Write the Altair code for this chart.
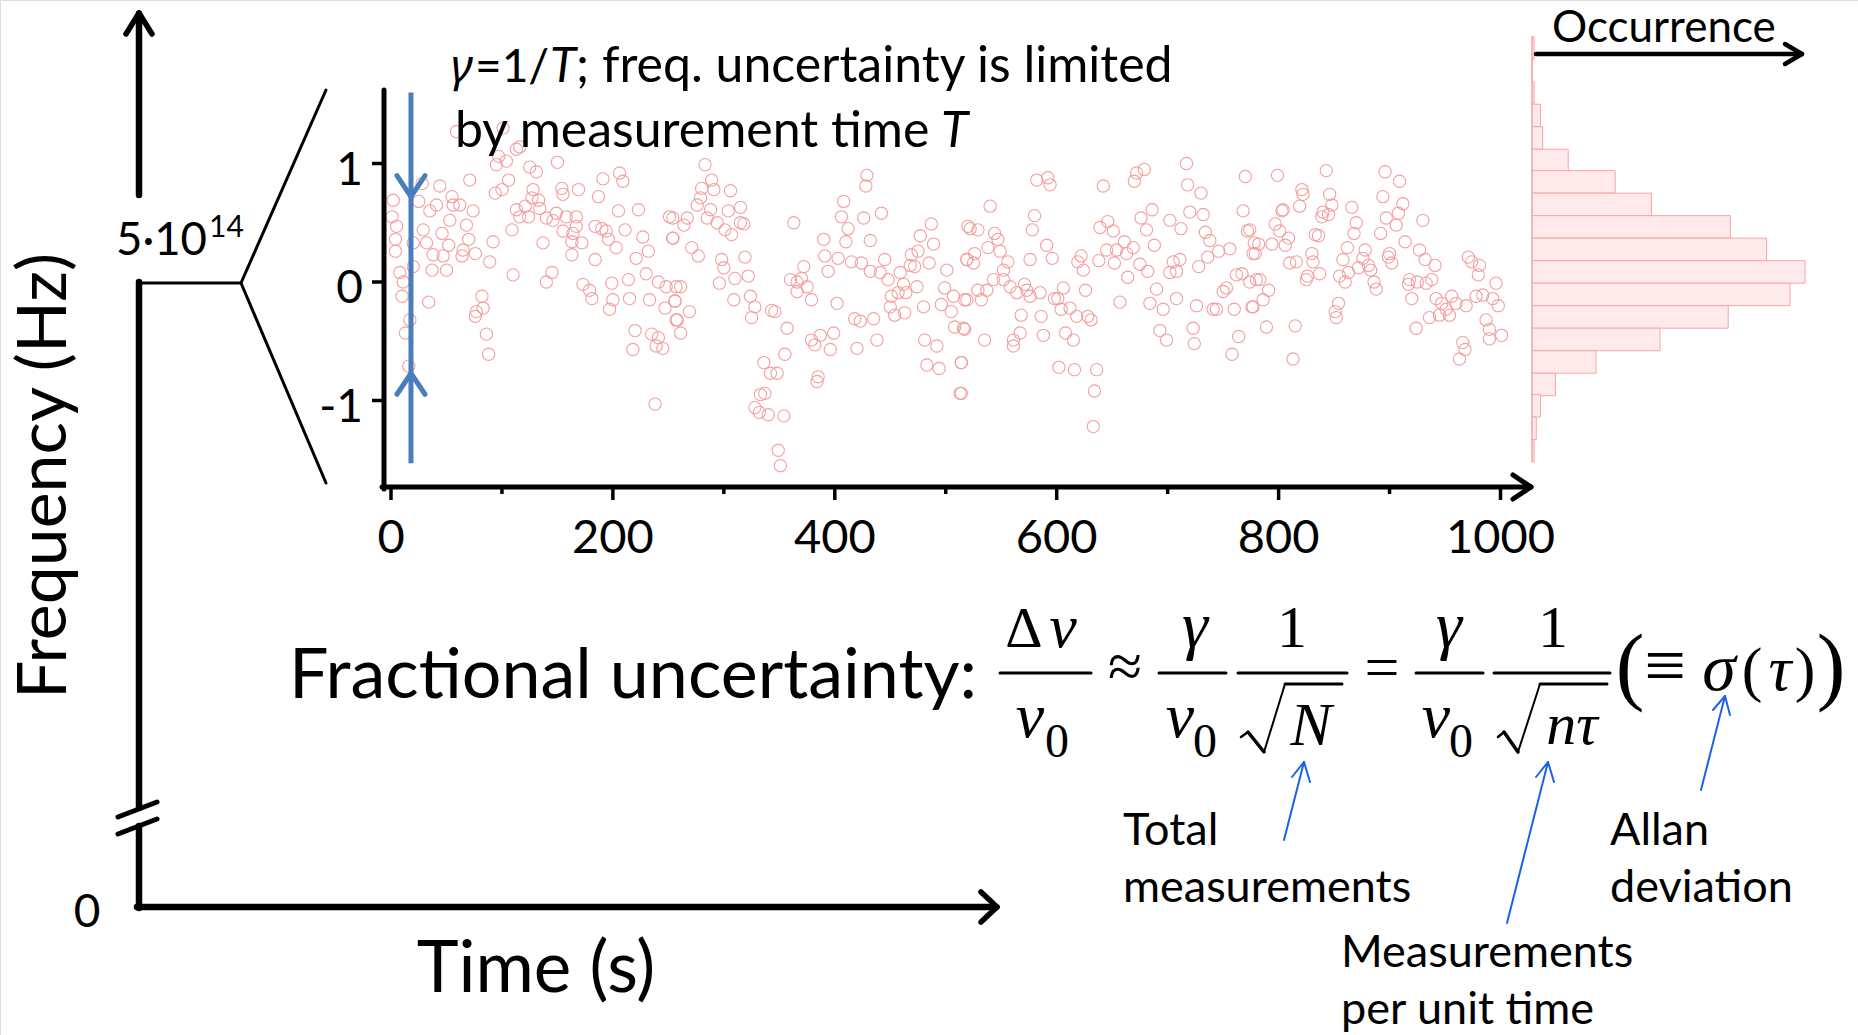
import altair as alt
import pandas as pd

# ---------------- data ----------------
# (time in s, frequency offset) pairs, grouped by time segment
seg_a = [(59,1.27),(101,1.30),(113,1.12),(116,1.14),(97,1.06),(104,1.02),(95,0.99),(125,0.97),(131,0.93),(150,1.01),
         (28,0.83),(44,0.81),(71,0.86),(94,0.75),(100,0.78),(106,0.86),(128,0.78),(127,0.71),(133,0.69),(134,0.62),
         (154,0.79),(155,0.74),(169,0.78),(191,0.87),(187,0.72),(206,0.92),(209,0.85),(2,0.69),(25,0.68),(35,0.60),
         (41,0.65),(55,0.72),(56,0.65),(62,0.65),(74,0.60),(113,0.61),(121,0.64),(124,0.55),(116,0.55),(140,0.54),
         (146,0.52),(149,0.58),(158,0.55),(167,0.55),(167,0.47),(1,0.55),(5,0.47),(29,0.44),(46,0.41),(53,0.52),
         (68,0.48),(109,0.44),(155,0.43),(164,0.41),(184,0.47),(190,0.45),(194,0.43),(205,0.60),(211,0.44),(223,0.61),
         (251,0.55),(254,0.37),(4,0.36),(20,0.33),(32,0.33),(52,0.31),(70,0.36),(65,0.27),(64,0.22),(76,0.24),
         (92,0.34),(137,0.33),(163,0.34),(172,0.33),(196,0.36),(203,0.29),(4,0.26),(38,0.23),(47,0.22),(89,0.17),
         (184,0.19),(163,0.23),(221,0.20),(232,0.26),(227,0.38),(20,0.13),(37,0.10),(50,0.10),(8,0.08),(110,0.06),
         (145,0.08),(140,0.00),(173,-0.02),(179,-0.07),(199,-0.01),(214,0.02),(230,0.07),(241,0.00),(248,-0.04),(257,-0.04),
         (11,0.00),(10,-0.12),(34,-0.17),(82,-0.12),(83,-0.22),(77,-0.25),(76,-0.29),(181,-0.14),(200,-0.15),(197,-0.23),
         (215,-0.14),(233,-0.15),(247,-0.22),(256,-0.16),(257,-0.32),(17,-0.32),(13,-0.43),(86,-0.44),(88,-0.61),(220,-0.41),
         (218,-0.57),(235,-0.44),(241,-0.47),(239,-0.54),(245,-0.56),(16,-0.71),(238,-1.03)]
seg_b = [(283,0.99),(289,0.86),(280,0.79),(291,0.78),(306,0.77),(279,0.71),(276,0.65),(288,0.61),(304,0.60),(315,0.63),
         (254,0.54),(267,0.54),(264,0.48),(285,0.54),(294,0.50),(301,0.44),(307,0.40),(315,0.50),(318,0.49),(254,0.37),
         (271,0.29),(277,0.22),(298,0.19),(300,0.12),(319,0.21),(310,0.03),(322,0.05),(296,-0.01),(261,-0.04),(256,-0.16),
         (258,-0.32),(261,-0.43),(269,-0.25),(309,-0.15),(324,-0.12),(328,-0.21),(325,-0.30),(343,-0.24),(346,-0.25),(357,-0.39),
         (363,0.50),(355,-0.61),(336,-0.68),(342,-0.77),(348,-0.77),(333,-0.95),(337,-0.94),(328,-1.06),(332,-1.10),(340,-1.12),
         (354,-1.13),(349,-1.42),(351,-1.55),(360,0.02),(366,0.00),(370,0.03),(372,0.13),(375,-0.04),(366,-0.08),(379,-0.15),
         (390,0.36),(391,0.22),(394,0.09),(402,-0.18),(406,0.55),(408,0.68),(412,0.45),(410,0.34),(403,0.20),(415,0.17),
         (424,0.16),(426,0.54),(429,0.90),(428,0.81),(432,0.35),(432,0.09),(441,0.08),(442,0.58),(445,0.19),(448,0.02),
         (451,-0.12),(459,0.08),(462,-0.02),(464,-0.09),(457,-0.09),(450,-0.21),(454,-0.28),(463,-0.26),(468,0.14),(469,0.23),
         (475,0.26),(472,0.13),(474,-0.04),(477,0.39),(487,0.49),(489,0.32),(485,0.16),(480,-0.21),(501,0.10),(499,-0.05),
         (507,-0.12),(496,-0.19),(505,-0.25),(508,-0.38),(517,-0.15),(516,-0.39),(520,0.47),(519,0.19),(418,-0.31),(423,-0.33),
         (435,-0.31),(438,-0.49),(420,-0.56),(379,-0.49),(387,-0.45),(382,-0.53),(399,-0.43),(396,-0.57),(385,-0.80),(384,-0.84),
         (481,-0.49),(492,-0.54),(483,-0.70),(494,-0.73),(514,-0.68),(513,-0.94)]
seg_c = [(582,0.86),(592,0.88),(594,0.82),(642,0.81),(672,0.92),(670,0.85),(679,0.95),(717,1.00),(718,0.82),(730,0.75),
         (770,0.89),(540,0.64),(580,0.56),(578,0.44),(522,0.45),(529,0.44),(544,0.41),(547,0.36),(538,0.29),(549,0.26),
         (556,0.17),(552,0.10),(526,0.24),(519,0.19),(525,0.16),(543,0.02),(552,0.02),(558,-0.04),(564,-0.09),(571,-0.02),
         (573,-0.07),(576,-0.12),(585,-0.09),(529,-0.07),(537,-0.07),(532,-0.15),(519,-0.15),(517,-0.40),(535,-0.49),(568,-0.28),
         (567,-0.43),(561,-0.49),(561,-0.54),(586,-0.29),(588,-0.45),(591,0.31),(596,0.20),(576,0.19),(598,-0.14),(601,-0.14),
         (606,-0.05),(604,-0.23),(612,-0.22),(618,-0.29),(608,-0.43),(615,-0.49),(628,-0.29),(631,-0.32),(626,-0.07),(622,0.22),
         (619,0.17),(624,0.10),(602,-0.72),(616,-0.74),(636,-0.74),(634,-0.92),(633,-1.22),(639,0.46),(646,0.51),(651,0.43),
         (638,0.18),(645,0.27),(652,0.16),(654,0.27),(661,0.34),(663,0.24),(669,0.29),(657,-0.17),(664,0.04),(675,0.15),
         (682,0.09),(676,0.54),(686,0.61),(681,0.44),(688,0.31),(690,-0.06),(684,-0.18),(696,-0.23),(693,-0.41),(699,-0.49),
         (702,0.52),(712,0.45),(702,0.08),(705,0.17),(711,0.19),(708,0.09),(708,-0.14),(720,0.59),(732,0.57),(734,0.42),
         (738,0.35),(736,0.21),(728,0.13),(746,0.26),(756,0.28),(726,-0.20),(723,-0.39),(724,-0.52),(753,-0.05),(750,-0.08),
         (741,-0.23),(744,-0.23),(760,-0.23),(764,-0.46),(758,-0.61),(762,0.06),(767,0.07),(774,0.00),(768,0.60),(772,0.43),
         (778,0.33),(777,0.24),(780,0.02),(776,-0.21),(514,-0.68),(514,-0.94)]
seg_d = [(799,0.90),(843,0.94),(896,0.93),(909,0.85),(821,0.78),(822,0.74),(819,0.64),(846,0.74),(848,0.65),(840,0.59),
         (839,0.55),(845,0.57),(804,0.61),(803,0.60),(797,0.49),(801,0.43),(809,0.37),(806,0.31),(794,0.32),(782,0.32),
         (779,0.24),(774,0.44),(833,0.40),(836,0.39),(866,0.63),(870,0.50),(868,0.41),(894,0.72),(897,0.54),(906,0.48),
         (908,0.58),(912,0.66),(892,0.41),(930,0.52),(914,0.34),(927,0.27),(932,0.19),(941,0.14),(862,0.29),(858,0.19),
         (878,0.27),(876,0.20),(881,0.14),(883,0.10),(872,0.12),(863,0.08),(855,0.05),(860,0.00),(886,0.00),(888,-0.06),
         (899,0.21),(902,0.16),(900,0.24),(816,0.17),(810,0.16),(830,0.24),(831,0.17),(826,0.05),(825,0.02),(837,0.07),
         (783,0.02),(791,-0.07),(786,-0.15),(777,-0.21),(854,-0.18),(851,-0.25),(852,-0.30),(918,0.02),(917,-0.02),(925,0.00),
         (938,0.02),(933,-0.01),(920,-0.14),(942,-0.14),(936,-0.30),(947,-0.18),(951,-0.23),(945,-0.28),(956,-0.12),(960,-0.18),
         (954,-0.28),(971,0.21),(974,0.17),(981,0.14),(980,0.06),(978,-0.12),(984,-0.11),(996,-0.01),(993,-0.14),(998,-0.20),
         (969,-0.20),(987,-0.32),(990,-0.40),(1001,-0.45),(990,-0.48),(966,-0.51),(968,-0.57),(963,-0.65),(924,-0.39),(789,-0.38),
         (815,-0.37),(813,-0.65)]

# histogram of occurrences (bin tops in frequency units, counts)
hist_top = [2.07, 1.88, 1.69, 1.50, 1.31, 1.12, 0.94, 0.75, 0.56, 0.37, 0.18, -0.01, -0.20, -0.39, -0.58, -0.77, -0.95, -1.14, -1.33]
hist_count = [1, 0, 1, 4, 5, 17, 39, 56, 93, 110, 128, 121, 92, 60, 30, 11, 4, 2, 1]
hist_bin = 0.19

x_major = [0, 200, 400, 600, 800, 1000]
x_minor = [100, 300, 500, 700, 900]
y_ticks = [-1, 0, 1]

gamma_t = 18          # time of the linewidth marker
gamma_span = (-1.53, 1.60)
gamma_down_tip = 0.72
gamma_up_tip = -0.77

# ---------------- scales ----------------
XS = alt.Scale(domain=[0, 1000], range=[391, 1500.5], nice=False, zero=False)
YS = alt.Scale(domain=[-1, 1], range=[400.5, 163.5], nice=False, zero=False)
HXS = alt.Scale(domain=[0, 128], range=[1532, 1805], nice=False, zero=False)

RED = '#f49b9b'
BLUE = '#4a7dbb'
ABLUE = '#1a63e8'

pts = pd.DataFrame(seg_a + seg_b + seg_c + seg_d, columns=['t', 'f'])

scatter = alt.Chart(pts).mark_point(shape='circle', filled=False, size=150, color=RED,
                                    strokeWidth=1.1, opacity=0.95).encode(
    x=alt.X('t:Q', scale=XS, axis=None), y=alt.Y('f:Q', scale=YS, axis=None))

hist_df = pd.DataFrame({'top': hist_top, 'count': hist_count})
hist_df['bottom'] = hist_df['top'] - hist_bin
hist_df['zero'] = 0
hist = alt.Chart(hist_df).mark_rect(fill='#feeaea', stroke='#f7a6a6', strokeWidth=1).encode(
    x=alt.X('zero:Q', scale=HXS, axis=None), x2='count:Q',
    y=alt.Y('top:Q', scale=YS, axis=None), y2='bottom:Q')
hist_base = alt.Chart(pd.DataFrame({'a': [hist_top[0]], 'b': [hist_top[-1] - hist_bin], 'z': [0]})).mark_rule(
    color='#f7a6a6', strokeWidth=1.2).encode(
    x=alt.X('z:Q', scale=HXS, axis=None), y=alt.Y('a:Q', scale=YS, axis=None), y2='b:Q')

xt_major = alt.Chart(pd.DataFrame({'t': x_major})).mark_rule(color='black', strokeWidth=3.5).encode(
    x=alt.X('t:Q', scale=XS, axis=None), y=alt.value(487), y2=alt.value(500))
xt_minor = alt.Chart(pd.DataFrame({'t': x_minor})).mark_rule(color='black', strokeWidth=3.5).encode(
    x=alt.X('t:Q', scale=XS, axis=None), y=alt.value(487), y2=alt.value(494))
xt_lab = alt.Chart(pd.DataFrame({'t': x_major, 'lab': [str(v) for v in x_major]})).mark_text(
    font='Lato', fontSize=47, align='center', baseline='alphabetic', color='black').encode(
    x=alt.X('t:Q', scale=XS, axis=None), y=alt.value(553), text='lab:N')
yt = alt.Chart(pd.DataFrame({'f': y_ticks})).mark_rule(color='black', strokeWidth=3.5).encode(
    y=alt.Y('f:Q', scale=YS, axis=None), x=alt.value(372), x2=alt.value(384))
yt_lab = alt.Chart(pd.DataFrame({'f': y_ticks, 'lab': [str(v) for v in y_ticks]})).mark_text(
    font='Lato', fontSize=46, align='right', baseline='middle', dy=7, color='black').encode(
    y=alt.Y('f:Q', scale=YS, axis=None), x=alt.value(363), text='lab:N')

gl = alt.Chart(pd.DataFrame({'t': [gamma_t], 'a': [gamma_span[0]], 'b': [gamma_span[1]]})).mark_rule(
    color=BLUE, strokeWidth=5).encode(
    x=alt.X('t:Q', scale=XS, axis=None), y=alt.Y('a:Q', scale=YS, axis=None), y2='b:Q')
g_down = alt.Chart(pd.DataFrame({'t': [gamma_t], 'f': [gamma_down_tip]})).mark_point(
    shape='M-0.667,-1L0,0L0.667,-1', size=1764, filled=False, color=BLUE, strokeWidth=5, opacity=1,
    strokeCap='round').encode(x=alt.X('t:Q', scale=XS, axis=None), y=alt.Y('f:Q', scale=YS, axis=None))
g_up = alt.Chart(pd.DataFrame({'t': [gamma_t], 'f': [gamma_up_tip]})).mark_point(
    shape='M-0.667,1L0,0L0.667,1', size=1764, filled=False, color=BLUE, strokeWidth=5, opacity=1,
    strokeCap='round').encode(x=alt.X('t:Q', scale=XS, axis=None), y=alt.Y('f:Q', scale=YS, axis=None))


# ---------------- decorations (pixel layout) ----------------
def px_lines(rows, color):
    d = pd.DataFrame(rows, columns=['x', 'y', 'x2', 'y2', 'w'])
    return alt.Chart(d).mark_rule(color=color, strokeCap='round').encode(
        x=alt.X('x:Q', scale=None, axis=None), y=alt.Y('y:Q', scale=None, axis=None),
        x2='x2:Q', y2='y2:Q', strokeWidth=alt.StrokeWidth('w:Q', scale=None, legend=None))


def px_text(rows, font, align='left', style='normal', angle=0):
    d = pd.DataFrame(rows, columns=['txt', 'px', 'py', 'fs'])
    return alt.Chart(d).mark_text(font=font, align=align, baseline='alphabetic', fontStyle=style,
                                  angle=angle, color='black').encode(
        x=alt.X('px:Q', scale=None, axis=None), y=alt.Y('py:Q', scale=None, axis=None),
        text='txt:N', size=alt.Size('fs:Q', scale=None, legend=None))


black_lines = px_lines([
    (139, 14, 139, 195, 6.5), (139, 282, 139, 808, 6.5), (139, 826, 139, 908, 6.5),
    (137, 907, 995, 907, 6.5),
    (126, 34, 139, 13, 5.5), (152, 34, 139, 13, 5.5),
    (981, 892, 997, 907, 5.5), (981, 922, 997, 907, 5.5),
    (118, 817, 157, 802, 5), (118, 834, 157, 819, 5),
    (139, 283, 241, 283, 3), (241, 283, 326, 90, 3), (241, 283, 326, 483, 3),
    (384, 90, 384, 489, 5), (382, 487, 1530, 487, 5),
    (1513, 475, 1531, 487, 5), (1513, 499, 1531, 487, 5),
    (1536, 54, 1801, 54, 4.5), (1785, 44, 1802, 54, 4.5), (1785, 64, 1802, 54, 4.5),
    (1000, 673, 1091, 673, 3), (1159, 673, 1226, 673, 3), (1238, 673, 1347, 673, 3),
    (1416, 673, 1483, 673, 3), (1494, 673, 1610, 673, 3),
    (1241, 737, 1248, 732, 2.5), (1248, 732, 1264, 752, 3.5), (1264, 752, 1285, 684, 2), (1285, 684, 1342, 684, 3),
    (1498, 737, 1504, 732, 2.5), (1504, 732, 1518, 752, 3.5), (1518, 752, 1540, 684, 2), (1540, 684, 1607, 684, 3),
], 'black')

blue_lines = px_lines([
    (1284, 840, 1304, 762, 2), (1292, 777, 1304, 762, 2), (1310, 782, 1304, 762, 2),
    (1507, 923, 1548, 762, 2), (1536, 777, 1548, 762, 2), (1554, 782, 1548, 762, 2),
    (1701, 790, 1725, 696, 2), (1713, 710, 1725, 696, 2), (1730, 715, 1725, 696, 2),
], ABLUE)

sans_left = px_text([
    ('Fractional uncertainty:', 289, 698, 70),
    ('5·10', 116, 255, 45.5), ('14', 209, 237, 30),
    ('=1/', 475, 82, 46), ('; freq. uncertainty is limited', 576, 82, 50),
    ('by measurement time', 455, 147, 50),
    ('Occurrence', 1552, 42, 44),
    ('Total', 1123, 845, 45), ('measurements', 1123, 902, 45),
    ('Allan', 1610, 845, 45), ('deviation', 1610, 902, 45),
    ('Measurements', 1341, 967, 45), ('per unit time', 1341, 1024, 45),
], 'Lato')
sans_italic = px_text([('T', 550, 82, 48), ('T', 941, 147, 50)], 'Lato', style='italic')
greek_italic = px_text([('γ', 451, 82, 46)], 'Noto Sans', style='italic')
sans_center = px_text([('Time (s)', 536, 992, 71), ('0', 87, 927, 46)], 'Lato', align='center')
sans_rot = px_text([('Frequency (Hz)', 66, 476, 68)], 'Lato', align='center', angle=270)

serif_up = px_text([
    ('Δ', 1024, 647, 58), ('1', 1292, 647, 60), ('1', 1553, 647, 60),
    ('0', 1057, 757, 48), ('0', 1205, 757, 48), ('0', 1461, 757, 48),
    ('≈', 1125, 687, 62), ('=', 1382, 688, 62),
    ('(', 1630, 694, 86), (')', 1831, 694, 86), ('≡', 1665, 690, 74),
    ('(', 1752, 690, 62), (')', 1805, 690, 62),
], 'Liberation Serif', align='center')
serif_it = px_text([
    ('ν', 1063, 647, 62), ('γ', 1195, 647, 66), ('γ', 1449, 647, 66),
    ('ν', 1030, 737, 64), ('ν', 1180, 737, 64), ('ν', 1436, 737, 64),
    ('N', 1311, 745, 62), ('nτ', 1572, 744, 60),
    ('σ', 1719, 690, 68), ('τ', 1780, 690, 64),
], 'Liberation Serif', align='center', style='italic')

chart = alt.layer(
    hist, hist_base, scatter, gl, g_down, g_up,
    xt_major, xt_minor, xt_lab, yt, yt_lab,
    black_lines, blue_lines,
    sans_left, sans_italic, greek_italic, sans_center, sans_rot, serif_up, serif_it,
).resolve_scale(x='independent', y='independent').properties(
    width=1858, height=1035, padding=0, autosize=alt.AutoSizeParams(type='none')
).configure_view(stroke=None).configure(background='white')

chart.save('out.html', embed_options={'renderer': 'svg', 'actions': False})
